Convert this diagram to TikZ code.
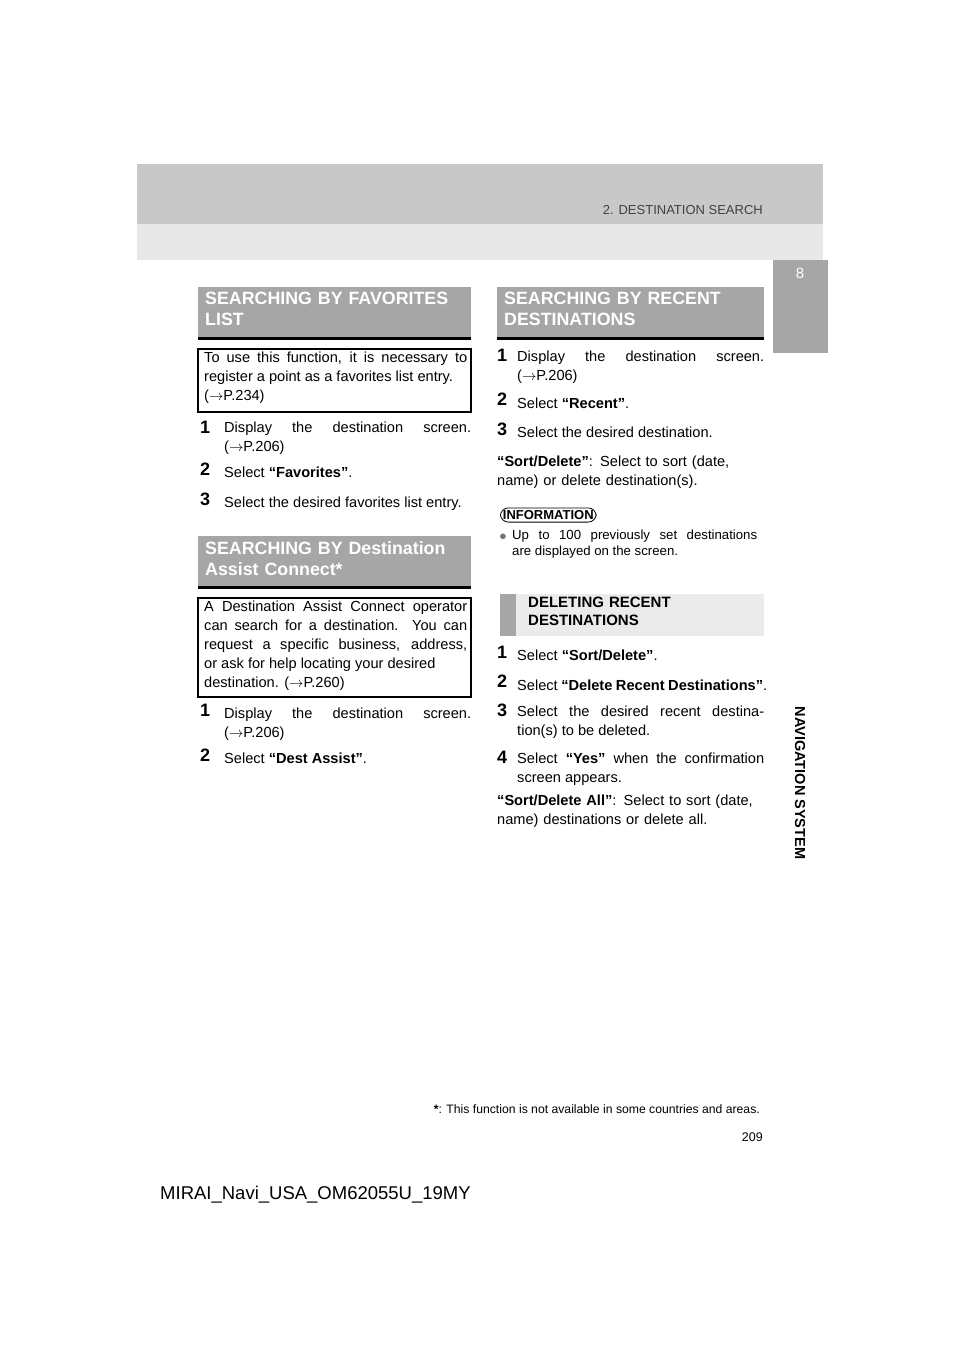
\documentclass[tikz,border=0pt]{standalone}
\usepackage{fontspec}
\setmainfont{Liberation Sans}
\usetikzlibrary{positioning}
\definecolor{bandgray}{HTML}{C8C8C8}
\definecolor{lightband}{HTML}{E8E8E8}
\definecolor{headgray}{HTML}{A6A6A6}
\definecolor{subgray}{HTML}{EBEBEB}
\definecolor{tabgray}{HTML}{A6A6A6}
\hyphenpenalty=10000
\exhyphenpenalty=10000
\newcommand{\bodysz}{\fontsize{14.6}{19}\selectfont}
\newcommand{\infosz}{\fontsize{13.2}{16}\selectfont}
\newcommand{\rarr}{\ensuremath{\rightarrow}}
\begin{document}
\begin{tikzpicture}[x=1pt,y=-1pt,
  body/.style={anchor=north west,inner sep=0pt,text width=#1,align=justify,font=\bodysz},
  body/.default=247pt,
  stepnum/.style={anchor=north west,inner sep=0pt,font=\fontsize{18}{18}\selectfont\bfseries},
  headtxt/.style={anchor=north west,inner sep=0pt,text width=262pt,align=left,text=white,font=\fontsize{17.8}{21}\selectfont\bfseries},
  subtxt/.style={anchor=north west,inner sep=0pt,text width=230pt,align=left,font=\fontsize{15}{18}\selectfont\bfseries}]
\useasboundingbox (0,0) rectangle (960,1358);
\fill[white] (0,0) rectangle (960,1358);
% page header
\fill[bandgray] (137,164) rectangle (823,224);
\fill[lightband] (137,224) rectangle (823,260);
\node[anchor=base east,inner sep=0pt,font=\fontsize{13}{14}\selectfont,text=black!75] (hdr) at (763,214) {2. DESTINATION SEARCH};
% side tab
\fill[tabgray] (773,260) rectangle (828,353);
\node[inner sep=0pt,text=white,font=\fontsize{15}{15}\selectfont] (tabno) at (800,273) {8};
\node[rotate=-90,inner sep=0pt,font=\fontsize{14.5}{15}\selectfont\bfseries] (tabtxt) at (800,783) {NAVIGATION SYSTEM};

% left column
\fill[headgray] (198,287) rectangle (471,337);
\fill[black] (198,337) rectangle (471,340);
\node[headtxt] (h1) at (205,292) {SEARCHING BY FAVORITES\\LIST};
\draw[line width=1.6pt] (198,349) rectangle (471,412);
\node[body=263pt] (b1) at (204,352) {To use this function, it is necessary to\linebreak register a point as a favorites list entry.\\(\rarr P.234)};
\node[stepnum] (s11) at (200,421) {1};
\node[body] (t11) at (224,422) {Display the destination screen.\linebreak (\rarr P.206)};
\node[stepnum] (s12) at (200,463) {2};
\node[body] (t12) at (224,467) {Select \textbf{“Favorites”}.};
\node[stepnum] (s13) at (200,493) {3};
\node[body] (t13) at (224,497) {Select the desired favorites list entry.};

\fill[headgray] (198,536) rectangle (471,586);
\fill[black] (198,586) rectangle (471,589);
\node[headtxt] (h2) at (205,541) {SEARCHING BY Destination\\Assist Connect*};
\draw[line width=1.6pt] (198,598) rectangle (471,697);
\node[body=263pt] (b2) at (204,601) {A Destination Assist Connect operator\linebreak can search for a destination. You can\linebreak request a specific business, address,\linebreak or ask for help locating your desired\\destination. (\rarr P.260)};
\node[stepnum] (s21) at (200,704) {1};
\node[body] (t21) at (224,708) {Display the destination screen.\linebreak (\rarr P.206)};
\node[stepnum] (s22) at (200,749) {2};
\node[body] (t22) at (224,753) {Select \textbf{“Dest Assist”}.};

% right column
\fill[headgray] (497,287) rectangle (764,337);
\fill[black] (497,337) rectangle (764,340);
\node[headtxt] (h3) at (504,292) {SEARCHING BY RECENT\\DESTINATIONS};
\node[stepnum] (s31) at (497,349) {1};
\node[body=247pt] (t31) at (517,351) {Display the destination screen.\linebreak (\rarr P.206)};
\node[stepnum] (s32) at (497,393) {2};
\node[body=247pt] (t32) at (517,398) {Select \textbf{“Recent”}.};
\node[stepnum] (s33) at (497,423) {3};
\node[body=247pt] (t33) at (517,427) {Select the desired destination.};
\node[body=267pt,align=left] (t34) at (497,456) {\textbf{“Sort/Delete”}: Select to sort (date,\\name) or delete destination(s).};

\node[draw,rounded corners=8pt,line width=0.8pt,inner sep=2.5pt,font=\fontsize{13}{14}\selectfont\bfseries,anchor=west] (info) at (500,515) {INFORMATION};
\node[inner sep=0pt,anchor=west,font=\fontsize{13}{13}\selectfont,text=black!55] (dot) at (499,537) {●};
\node[anchor=north west,inner sep=0pt,text width=245pt,align=justify,font=\infosz] (infot) at (512,530) {Up to 100 previously set destinations\linebreak are displayed on the screen.};

\fill[subgray] (500,594) rectangle (764,636);
\fill[headgray] (500,594) rectangle (516,636);
\node[subtxt] (h4) at (528,597) {DELETING RECENT\\DESTINATIONS};
\node[stepnum] (s41) at (497,646) {1};
\node[body=247pt] (t41) at (517,650) {Select \textbf{“Sort/Delete”}.};
\node[stepnum] (s42) at (497,675) {2};
\node[body=250pt] (t42) at (517,680) {Select \textbf{“Delete Recent Destinations”}.};
\node[stepnum] (s43) at (497,704) {3};
\node[body=247pt] (t43) at (517,706) {Select the desired recent destina-\linebreak tion(s) to be deleted.};
\node[stepnum] (s44) at (497,751) {4};
\node[body=247pt] (t44) at (517,753) {Select \textbf{“Yes”} when the confirmation\linebreak screen appears.};
\node[body=267pt,align=left] (t45) at (497,795) {\textbf{“Sort/Delete All”}: Select to sort (date,\\name) destinations or delete all.};

% footer
\node[anchor=base east,inner sep=0pt,font=\fontsize{12.2}{13}\selectfont] (foot) at (760,1113) {\textbf{*}: This function is not available in some countries and areas.};
\node[anchor=base east,inner sep=0pt,font=\fontsize{12.5}{14}\selectfont] (pg) at (763,1141) {209};
\node[anchor=base west,inner sep=0pt,font=\fontsize{18.5}{20}\selectfont] (code) at (160,1199) {MIRAI\_Navi\_USA\_OM62055U\_19MY};
\end{tikzpicture}
\end{document}
